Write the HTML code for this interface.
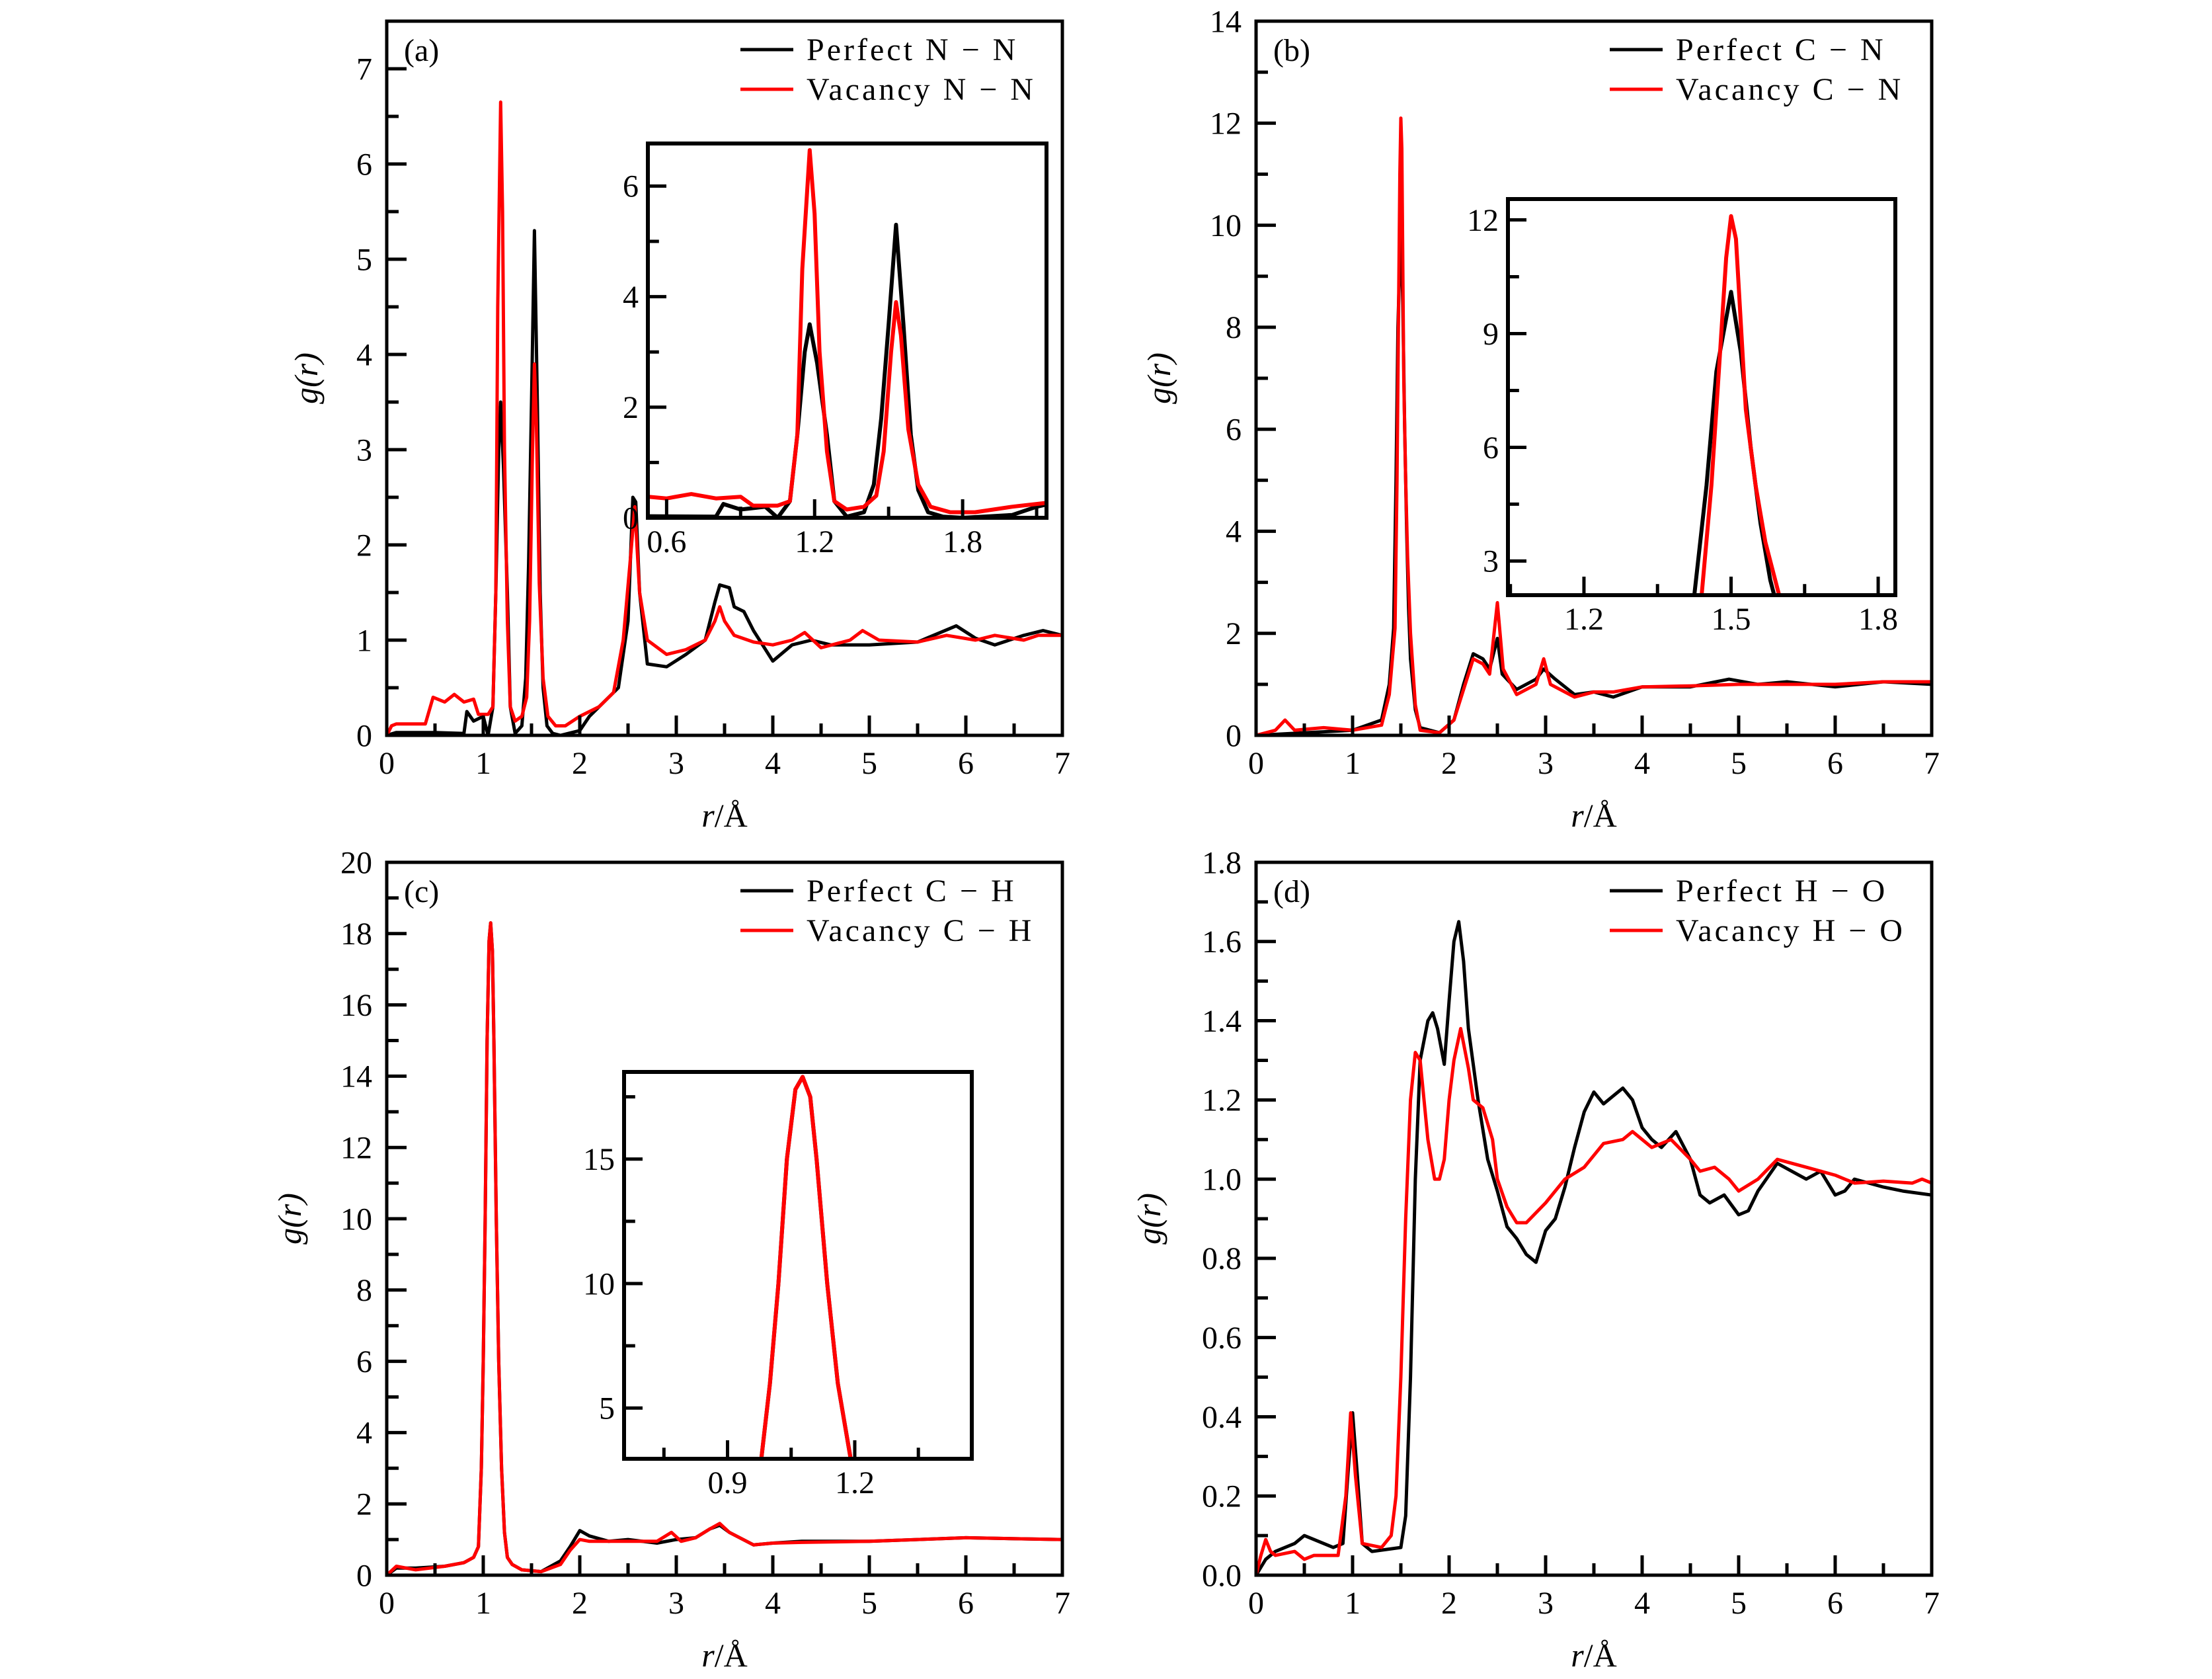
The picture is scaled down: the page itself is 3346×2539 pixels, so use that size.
<!DOCTYPE html>
<html><head><meta charset="utf-8"><style>
html,body{margin:0;padding:0;background:#fff;}
svg{display:block;font-family:"Liberation Serif",serif;}
</style></head><body>
<svg id="fig" width="3346" height="2539" viewBox="0 0 3346 2539" xmlns="http://www.w3.org/2000/svg"></svg>
<script>
// ---- data (r in Å, g(r)) ----
const aPerfR=[0,0.1,0.5,0.8,0.83,0.9,1.0,1.05,1.1,1.13,1.16,1.18,1.21,1.25,1.28,1.33,1.4,1.44,1.47,1.5,1.53,1.56,1.59,1.62,1.66,1.72,1.8,2.0,2.1,2.2,2.4,2.5,2.55,2.58,2.62,2.7,2.9,3.1,3.3,3.4,3.45,3.55,3.6,3.7,3.8,4.0,4.2,4.4,4.6,4.8,5.0,5.5,5.9,6.1,6.3,6.6,6.8,7];
const aPerfG=[0,0.03,0.03,0.02,0.25,0.15,0.2,0.0,0.3,1.5,3.0,3.5,2.8,1.5,0.3,0.02,0.1,0.6,1.8,3.5,5.3,3.5,1.5,0.5,0.1,0.02,0,0.05,0.2,0.3,0.5,1.2,2.5,2.45,1.5,0.75,0.72,0.85,1.0,1.4,1.58,1.55,1.35,1.3,1.1,0.78,0.95,1.0,0.95,0.95,0.95,0.98,1.15,1.02,0.95,1.05,1.1,1.05];
const aVacR=[0,0.05,0.1,0.4,0.48,0.6,0.7,0.8,0.9,0.95,1.05,1.1,1.13,1.15,1.18,1.2,1.22,1.25,1.28,1.33,1.4,1.45,1.48,1.51,1.53,1.55,1.58,1.62,1.67,1.75,1.85,2.0,2.2,2.35,2.45,2.52,2.57,2.62,2.7,2.9,3.1,3.3,3.4,3.45,3.5,3.6,3.8,4.0,4.2,4.33,4.5,4.8,4.93,5.1,5.5,5.8,6.1,6.3,6.6,6.75,7];
const aVacG=[0,0.1,0.12,0.12,0.4,0.35,0.43,0.35,0.38,0.22,0.22,0.3,1.5,4.5,6.65,5.5,3.0,1.2,0.3,0.15,0.2,0.4,1.2,3.0,3.9,3.3,1.6,0.6,0.2,0.1,0.1,0.2,0.3,0.45,1.0,1.8,2.4,1.5,1.0,0.85,0.9,1.0,1.2,1.35,1.2,1.05,0.98,0.95,1.0,1.08,0.92,1.0,1.1,1.0,0.98,1.05,1.0,1.05,1.0,1.05,1.05];

const bPerfR=[0,0.5,1.0,1.3,1.38,1.425,1.45,1.47,1.5,1.52,1.54,1.56,1.58,1.6,1.65,1.7,1.9,2.05,2.15,2.25,2.35,2.42,2.5,2.55,2.7,2.9,2.98,3.1,3.3,3.5,3.7,4.0,4.5,4.9,5.2,5.5,6,6.5,7];
const bPerfG=[0,0.05,0.1,0.3,1.0,2.1,5,8,10.1,8.5,6,4,2.5,1.5,0.5,0.15,0.05,0.3,1.0,1.6,1.5,1.3,1.9,1.2,0.9,1.1,1.3,1.1,0.8,0.85,0.75,0.95,0.95,1.1,1.0,1.05,0.95,1.05,1.0];
const bVacR=[0,0.2,0.3,0.4,0.7,1.0,1.3,1.38,1.44,1.46,1.475,1.49,1.5,1.51,1.53,1.55,1.57,1.6,1.65,1.7,1.9,2.05,2.15,2.25,2.35,2.42,2.5,2.56,2.7,2.9,2.98,3.05,3.3,3.5,3.7,4.0,4.5,5,5.5,6,6.5,7];
const bVacG=[0,0.1,0.3,0.1,0.15,0.1,0.2,0.8,2.1,5,8,11,12.1,11.5,7,5,3.5,2,0.6,0.1,0.05,0.3,0.9,1.5,1.4,1.2,2.6,1.3,0.8,1.0,1.5,1.0,0.75,0.85,0.85,0.95,0.97,1.0,1.0,1.0,1.05,1.05];

const cPerfR=[0,0.1,0.3,0.6,0.8,0.9,0.95,0.98,1.0,1.02,1.04,1.06,1.077,1.095,1.11,1.135,1.16,1.19,1.22,1.25,1.3,1.4,1.6,1.8,1.9,2.0,2.1,2.3,2.5,2.8,3.0,3.2,3.35,3.45,3.55,3.8,4.0,4.3,5,6,7];
const cPerfG=[0,0.2,0.2,0.25,0.35,0.5,0.8,3,6,10,15,17.8,18.3,17.5,15,10,6,3,1.2,0.5,0.3,0.15,0.1,0.4,0.8,1.25,1.1,0.95,1.0,0.9,1.0,1.05,1.3,1.4,1.2,0.85,0.9,0.95,0.95,1.05,1.0];
const cVacR=[0,0.1,0.3,0.6,0.8,0.9,0.95,0.98,1.0,1.02,1.04,1.06,1.077,1.095,1.11,1.135,1.16,1.19,1.22,1.25,1.3,1.4,1.6,1.8,1.9,2.0,2.1,2.3,2.5,2.8,2.95,3.05,3.2,3.35,3.45,3.55,3.8,4.0,4.3,5,6,7];
const cVacG=[0,0.25,0.15,0.25,0.35,0.5,0.8,3,6,10,15,17.8,18.3,17.5,15,10,6,3,1.2,0.5,0.3,0.15,0.1,0.3,0.7,1.0,0.95,0.95,0.95,0.95,1.2,0.95,1.05,1.3,1.45,1.2,0.85,0.9,0.92,0.95,1.05,1.0];

const dPerfR=[0,0.05,0.1,0.2,0.4,0.5,0.6,0.8,0.9,0.95,1.0,1.05,1.1,1.2,1.5,1.55,1.6,1.65,1.7,1.78,1.83,1.88,1.95,2.0,2.05,2.1,2.15,2.2,2.3,2.4,2.5,2.6,2.7,2.8,2.9,3.0,3.1,3.2,3.3,3.4,3.5,3.6,3.7,3.8,3.9,4.0,4.1,4.2,4.35,4.5,4.6,4.7,4.85,5.0,5.1,5.2,5.4,5.7,5.85,6.0,6.1,6.2,6.5,6.7,7];
const dPerfG=[0,0.02,0.04,0.06,0.08,0.1,0.09,0.07,0.08,0.25,0.41,0.25,0.08,0.06,0.07,0.15,0.5,1.0,1.3,1.4,1.42,1.38,1.29,1.45,1.6,1.65,1.55,1.38,1.2,1.05,0.97,0.88,0.85,0.81,0.79,0.87,0.9,0.98,1.08,1.17,1.22,1.19,1.21,1.23,1.2,1.13,1.1,1.08,1.12,1.05,0.96,0.94,0.96,0.91,0.92,0.97,1.04,1.0,1.02,0.96,0.97,1.0,0.98,0.97,0.96];
const dVacR=[0,0.05,0.1,0.15,0.2,0.4,0.5,0.6,0.85,0.93,0.98,1.03,1.1,1.3,1.4,1.45,1.5,1.55,1.6,1.65,1.7,1.78,1.85,1.9,1.95,2.0,2.05,2.12,2.2,2.25,2.35,2.45,2.5,2.6,2.7,2.8,3.0,3.2,3.4,3.6,3.8,3.9,4.1,4.3,4.5,4.6,4.75,4.9,5.0,5.2,5.4,5.7,6.0,6.2,6.5,6.8,6.9,7];
const dVacG=[0,0.05,0.09,0.06,0.05,0.06,0.04,0.05,0.05,0.2,0.41,0.25,0.08,0.07,0.1,0.2,0.5,0.9,1.2,1.32,1.3,1.1,1.0,1.0,1.05,1.2,1.3,1.38,1.28,1.2,1.18,1.1,1.0,0.93,0.89,0.89,0.94,1.0,1.03,1.09,1.1,1.12,1.08,1.1,1.05,1.02,1.03,1.0,0.97,1.0,1.05,1.03,1.01,0.99,0.995,0.99,1.0,0.99];

const aYTicks=[0,1,2,3,4,5,6,7];
const bYTicks=[0,2,4,6,8,10,12,14];
const cYTicks=[0,2,4,6,8,10,12,14,16,18,20];
const dYTicks=[0,0.2,0.4,0.6,0.8,1.0,1.2,1.4,1.6,1.8];
const xTicks=[0,1,2,3,4,5,6,7];

const svg=document.getElementById('fig');
const NS='http://www.w3.org/2000/svg';
let clipId=0;
function mk(tag,attrs,parent){const e=document.createElementNS(NS,tag);for(const k in attrs)e.setAttribute(k,attrs[k]);(parent||svg).appendChild(e);return e;}
function txt(s,x,y,size,anchor,parent,name){const t=mk('text',{x:x,y:y,'font-size':size,'text-anchor':anchor||'middle'},parent);t.textContent=s;


return t;}

function axes(o){
  const g=mk('g',{});
  
  
  const X=v=>o.x0+(v-o.xmin)/(o.xmax-o.xmin)*(o.x1-o.x0);
  const Y=v=>o.y1-(v-o.ymin)/(o.ymax-o.ymin)*(o.y1-o.y0);
  if(o.white) mk('rect',{x:o.x0,y:o.y0,width:o.x1-o.x0,height:o.y1-o.y0,fill:'#fff'},g);
  const cid='clip'+(clipId++);
  const cp=mk('clipPath',{id:cid},g);mk('rect',{x:o.x0,y:o.y0,width:o.x1-o.x0,height:o.y1-o.y0},cp);
  const sg=mk('g',{'clip-path':'url(#'+cid+')'},g);
  o.series.forEach(s=>{
    let d='';for(let i=0;i<s.r.length;i++)d+=(i?'L':'M')+X(s.r[i]).toFixed(1)+' '+Y(s.g[i]).toFixed(1);
    const p=mk('path',{d:d,fill:'none',stroke:s.c,'stroke-width':o.lw,'stroke-linejoin':'round'},sg);
    
    
  });
  const tg=mk('g',{stroke:'#000','stroke-width':o.tw},g);
  const eps=1e-6;
  for(let v=Math.ceil((o.xmin-eps)/o.xminor)*o.xminor;v<=o.xmax+eps;v+=o.xminor){
    const isMaj=Math.abs(v/o.xmajor-Math.round(v/o.xmajor))<1e-4;
    const L=isMaj?o.tl:o.tl*0.6;
    mk('line',{x1:X(v),x2:X(v),y1:o.y1,y2:o.y1-L},tg);
  }
  for(let v=Math.ceil((o.ymin-eps)/o.yminor)*o.yminor;v<=o.ymax+eps;v+=o.yminor){
    const isMaj=Math.abs(v/o.ymajor-Math.round(v/o.ymajor))<1e-4;
    const L=isMaj?o.tl:o.tl*0.6;
    mk('line',{x1:o.x0,x2:o.x0+L,y1:Y(v),y2:Y(v)},tg);
  }
  o.xlabels.forEach(v=>txt(o.xfmt(v),X(v),o.y1+o.xlo,o.fs,'middle',g,'x-tick-label'));
  o.ylabels.forEach(v=>txt(o.yfmt(v),o.x0-o.ylo,Y(v)+o.fs*0.34,o.fs,'end',g,'y-tick-label'));
  const fr=mk('rect',{x:o.x0,y:o.y0,width:o.x1-o.x0,height:o.y1-o.y0,fill:'none',stroke:'#000','stroke-width':o.fw},g);
  
  
  return g;
}
const f0=v=>String(v), f1=v=>v.toFixed(1);

function panel(p){
  const o=Object.assign({xmin:0,xmax:7,xmajor:1,xminor:0.5,lw:5,tw:5,tl:30,fw:5,fs:48,xlo:58,ylo:22,xlabels:xTicks,xfmt:f0},p);
  axes(o);
  txt('('+p.letter+')',o.x0+26,o.y0+60,48,'start',svg,'panel-label').setAttribute('text-anchor','start');
  const lx=o.x0+535;
  const l1=mk('line',{x1:lx,x2:lx+80,y1:o.y0+43,y2:o.y0+43,stroke:'#000','stroke-width':5});
  
  
  const l2=mk('line',{x1:lx,x2:lx+80,y1:o.y0+103,y2:o.y0+103,stroke:'#f00','stroke-width':5});
  
  
  txt('Perfect '+p.pair,lx+100,o.y0+59,48,'start',svg,'legend-perfect').setAttribute('letter-spacing','4');
  txt('Vacancy '+p.pair,lx+100,o.y0+119,48,'start',svg,'legend-vacancy').setAttribute('letter-spacing','4');
  const yt=mk('text',{x:0,y:0,'font-size':50,'font-style':'italic','text-anchor':'middle',transform:'translate('+(o.x0-p.ytoff)+','+((o.y0+o.y1)/2)+') rotate(-90)'});
  yt.textContent='g(r)';
  
  
  const xt=mk('text',{x:(o.x0+o.x1)/2,y:o.y1+138,'font-size':50,'text-anchor':'middle'});
  xt.innerHTML='<tspan font-style="italic">r</tspan>/Å';
  
  
}

const SA=(r,g,c,n)=>({r:r,g:g,c:c,name:n});
panel({name:'panel-a',letter:'a',pair:'N − N',x0:585,x1:1607,y0:32,y1:1112,ymin:0,ymax:7.5,ymajor:1,yminor:0.5,ylabels:aYTicks,yfmt:f0,ytoff:105,
  series:[SA(aPerfR,aPerfG,'#000','perfect-nn-line'),SA(aVacR,aVacG,'#f00','vacancy-nn-line')]});
panel({name:'panel-b',letter:'b',pair:'C − N',x0:1900,x1:2922,y0:32,y1:1112,ymin:0,ymax:14,ymajor:2,yminor:1,ylabels:bYTicks,yfmt:f0,ytoff:130,
  series:[SA(bPerfR,bPerfG,'#000','perfect-cn-line'),SA(bVacR,bVacG,'#f00','vacancy-cn-line')]});
panel({name:'panel-c',letter:'c',pair:'C − H',x0:585,x1:1607,y0:1304,y1:2382,ymin:0,ymax:20,ymajor:2,yminor:1,ylabels:cYTicks,yfmt:f0,ytoff:130,
  series:[SA(cPerfR,cPerfG,'#000','perfect-ch-line'),SA(cVacR,cVacG,'#f00','vacancy-ch-line')]});
panel({name:'panel-d',letter:'d',pair:'H − O',x0:1900,x1:2922,y0:1304,y1:2382,ymin:0,ymax:1.8,ymajor:0.2,yminor:0.1,ylabels:dYTicks,yfmt:f1,ytoff:145,
  series:[SA(dPerfR,dPerfG,'#000','perfect-ho-line'),SA(dVacR,dVacG,'#f00','vacancy-ho-line')]});

const inset=(p)=>axes(Object.assign({white:true,lw:6,tw:5,tl:28,fw:6,fs:48,xlo:52,ylo:14},p));
inset({name:'inset-a',x0:980,x1:1583,y0:217,y1:783,xmin:0.524,xmax:2.14,xmajor:0.6,xminor:0.3,ymin:0,ymax:6.77,ymajor:2,yminor:1,
  xlabels:[0.6,1.2,1.8],xfmt:f1,ylabels:[0,2,4,6],yfmt:f0,
  series:[SA(aPerfR,aPerfG,'#000','inset-perfect-nn-line'),SA(aVacR,aVacG,'#f00','inset-vacancy-nn-line')]});
inset({name:'inset-b',x0:2281,x1:2867,y0:301,y1:900,xmin:1.045,xmax:1.835,xmajor:0.3,xminor:0.15,ymin:2.1,ymax:12.55,ymajor:3,yminor:1.5,
  xlabels:[1.2,1.5,1.8],xfmt:f1,ylabels:[3,6,9,12],yfmt:f0,
  series:[SA(bPerfR,bPerfG,'#000','inset-perfect-cn-line'),SA(bVacR,bVacG,'#f00','inset-vacancy-cn-line')]});
inset({name:'inset-c',x0:944,x1:1470,y0:1621,y1:2206,xmin:0.656,xmax:1.476,xmajor:0.3,xminor:0.15,ymin:2.96,ymax:18.5,ymajor:5,yminor:2.5,
  xlabels:[0.9,1.2],xfmt:f1,ylabels:[5,10,15],yfmt:f0,
  series:[SA(cPerfR,cPerfG,'#000','inset-perfect-ch-line'),SA(cVacR,cVacG,'#f00','inset-vacancy-ch-line')]});
</script>
</body></html>
